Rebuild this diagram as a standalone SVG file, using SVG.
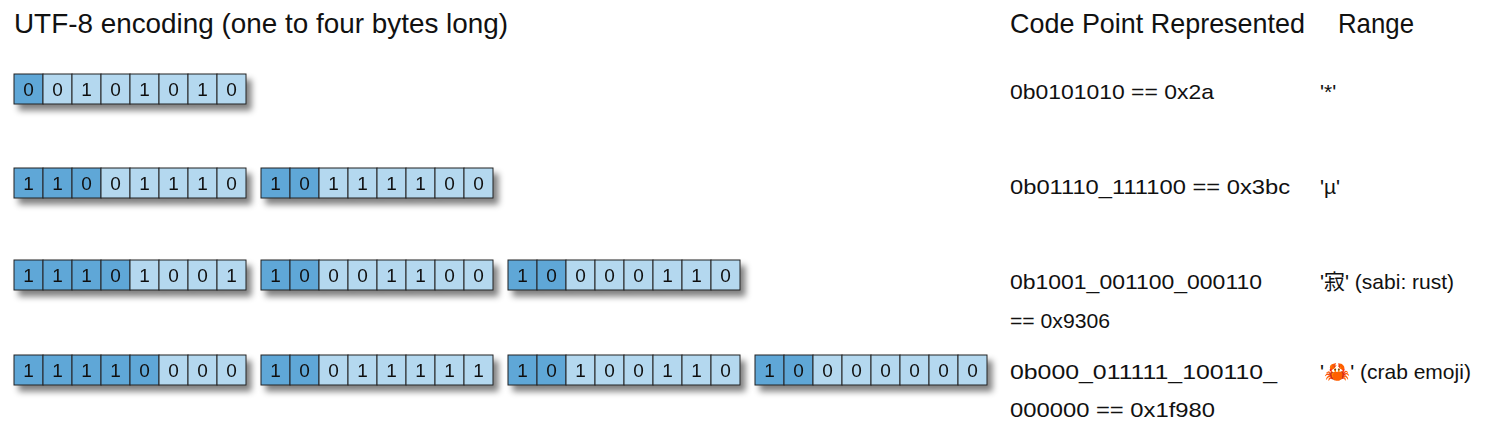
<svg xmlns="http://www.w3.org/2000/svg" xmlns:xlink="http://www.w3.org/1999/xlink" width="1503" height="434" viewBox="0 0 1503 434">
<style>
text{font-family:"Liberation Sans","DejaVu Sans",sans-serif;fill:#111}
.h{font-size:28px}
.t{font-size:21px}
.b{font-size:19px;text-anchor:middle}
.d{fill:#5fa7d7;stroke:#222;stroke-width:1}
.l{fill:#b4d8ef;stroke:#222;stroke-width:1}
</style>
<defs>
<filter id="sh" x="-10%" y="-30%" width="125%" height="190%">
<feGaussianBlur in="SourceAlpha" stdDeviation="3"/>
<feOffset dx="5" dy="6"/>
<feComponentTransfer><feFuncA type="linear" slope="0.5"/></feComponentTransfer>
<feMerge><feMergeNode/><feMergeNode in="SourceGraphic"/></feMerge>
</filter>
</defs>
<text class="h" x="14" y="33" textLength="494" lengthAdjust="spacingAndGlyphs">UTF-8 encoding (one to four bytes long)</text>
<text class="h" x="1010" y="33" textLength="295" lengthAdjust="spacingAndGlyphs">Code Point Represented</text>
<text class="h" x="1338" y="33" textLength="76" lengthAdjust="spacingAndGlyphs">Range</text>
<g id="bytes">
<!-- row1 -->
<g id="r1b1" filter="url(#sh)" transform="translate(14,74)">
<rect class="d" x="0" y="0" width="29" height="30"/><rect class="l" x="29" y="0" width="29" height="30"/><rect class="l" x="58" y="0" width="29" height="30"/><rect class="l" x="87" y="0" width="29" height="30"/><rect class="l" x="116" y="0" width="29" height="30"/><rect class="l" x="145" y="0" width="29" height="30"/><rect class="l" x="174" y="0" width="29" height="30"/><rect class="l" x="203" y="0" width="29" height="30"/>
<text class="b" x="14.5" y="22">0</text><text class="b" x="43.5" y="22">0</text><text class="b" x="72.5" y="22">1</text><text class="b" x="101.5" y="22">0</text><text class="b" x="130.5" y="22">1</text><text class="b" x="159.5" y="22">0</text><text class="b" x="188.5" y="22">1</text><text class="b" x="217.5" y="22">0</text>
</g>
<!-- row2 -->
<g id="r2b1" filter="url(#sh)" transform="translate(14,168)">
<rect class="d" x="0" y="0" width="29" height="30"/><rect class="d" x="29" y="0" width="29" height="30"/><rect class="d" x="58" y="0" width="29" height="30"/><rect class="l" x="87" y="0" width="29" height="30"/><rect class="l" x="116" y="0" width="29" height="30"/><rect class="l" x="145" y="0" width="29" height="30"/><rect class="l" x="174" y="0" width="29" height="30"/><rect class="l" x="203" y="0" width="29" height="30"/>
<text class="b" x="14.5" y="22">1</text><text class="b" x="43.5" y="22">1</text><text class="b" x="72.5" y="22">0</text><text class="b" x="101.5" y="22">0</text><text class="b" x="130.5" y="22">1</text><text class="b" x="159.5" y="22">1</text><text class="b" x="188.5" y="22">1</text><text class="b" x="217.5" y="22">0</text>
</g>
<g id="r2b2" filter="url(#sh)" transform="translate(261,168)">
<rect class="d" x="0" y="0" width="29" height="30"/><rect class="d" x="29" y="0" width="29" height="30"/><rect class="l" x="58" y="0" width="29" height="30"/><rect class="l" x="87" y="0" width="29" height="30"/><rect class="l" x="116" y="0" width="29" height="30"/><rect class="l" x="145" y="0" width="29" height="30"/><rect class="l" x="174" y="0" width="29" height="30"/><rect class="l" x="203" y="0" width="29" height="30"/>
<text class="b" x="14.5" y="22">1</text><text class="b" x="43.5" y="22">0</text><text class="b" x="72.5" y="22">1</text><text class="b" x="101.5" y="22">1</text><text class="b" x="130.5" y="22">1</text><text class="b" x="159.5" y="22">1</text><text class="b" x="188.5" y="22">0</text><text class="b" x="217.5" y="22">0</text>
</g>
<!-- row3 -->
<g id="r3b1" filter="url(#sh)" transform="translate(14,260)">
<rect class="d" x="0" y="0" width="29" height="30"/><rect class="d" x="29" y="0" width="29" height="30"/><rect class="d" x="58" y="0" width="29" height="30"/><rect class="d" x="87" y="0" width="29" height="30"/><rect class="l" x="116" y="0" width="29" height="30"/><rect class="l" x="145" y="0" width="29" height="30"/><rect class="l" x="174" y="0" width="29" height="30"/><rect class="l" x="203" y="0" width="29" height="30"/>
<text class="b" x="14.5" y="22">1</text><text class="b" x="43.5" y="22">1</text><text class="b" x="72.5" y="22">1</text><text class="b" x="101.5" y="22">0</text><text class="b" x="130.5" y="22">1</text><text class="b" x="159.5" y="22">0</text><text class="b" x="188.5" y="22">0</text><text class="b" x="217.5" y="22">1</text>
</g>
<g id="r3b2" filter="url(#sh)" transform="translate(261,260)">
<rect class="d" x="0" y="0" width="29" height="30"/><rect class="d" x="29" y="0" width="29" height="30"/><rect class="l" x="58" y="0" width="29" height="30"/><rect class="l" x="87" y="0" width="29" height="30"/><rect class="l" x="116" y="0" width="29" height="30"/><rect class="l" x="145" y="0" width="29" height="30"/><rect class="l" x="174" y="0" width="29" height="30"/><rect class="l" x="203" y="0" width="29" height="30"/>
<text class="b" x="14.5" y="22">1</text><text class="b" x="43.5" y="22">0</text><text class="b" x="72.5" y="22">0</text><text class="b" x="101.5" y="22">0</text><text class="b" x="130.5" y="22">1</text><text class="b" x="159.5" y="22">1</text><text class="b" x="188.5" y="22">0</text><text class="b" x="217.5" y="22">0</text>
</g>
<g id="r3b3" filter="url(#sh)" transform="translate(508,260)">
<rect class="d" x="0" y="0" width="29" height="30"/><rect class="d" x="29" y="0" width="29" height="30"/><rect class="l" x="58" y="0" width="29" height="30"/><rect class="l" x="87" y="0" width="29" height="30"/><rect class="l" x="116" y="0" width="29" height="30"/><rect class="l" x="145" y="0" width="29" height="30"/><rect class="l" x="174" y="0" width="29" height="30"/><rect class="l" x="203" y="0" width="29" height="30"/>
<text class="b" x="14.5" y="22">1</text><text class="b" x="43.5" y="22">0</text><text class="b" x="72.5" y="22">0</text><text class="b" x="101.5" y="22">0</text><text class="b" x="130.5" y="22">0</text><text class="b" x="159.5" y="22">1</text><text class="b" x="188.5" y="22">1</text><text class="b" x="217.5" y="22">0</text>
</g>
<!-- row4 -->
<g id="r4b1" filter="url(#sh)" transform="translate(14,355)">
<rect class="d" x="0" y="0" width="29" height="30"/><rect class="d" x="29" y="0" width="29" height="30"/><rect class="d" x="58" y="0" width="29" height="30"/><rect class="d" x="87" y="0" width="29" height="30"/><rect class="d" x="116" y="0" width="29" height="30"/><rect class="l" x="145" y="0" width="29" height="30"/><rect class="l" x="174" y="0" width="29" height="30"/><rect class="l" x="203" y="0" width="29" height="30"/>
<text class="b" x="14.5" y="22">1</text><text class="b" x="43.5" y="22">1</text><text class="b" x="72.5" y="22">1</text><text class="b" x="101.5" y="22">1</text><text class="b" x="130.5" y="22">0</text><text class="b" x="159.5" y="22">0</text><text class="b" x="188.5" y="22">0</text><text class="b" x="217.5" y="22">0</text>
</g>
<g id="r4b2" filter="url(#sh)" transform="translate(261,355)">
<rect class="d" x="0" y="0" width="29" height="30"/><rect class="d" x="29" y="0" width="29" height="30"/><rect class="l" x="58" y="0" width="29" height="30"/><rect class="l" x="87" y="0" width="29" height="30"/><rect class="l" x="116" y="0" width="29" height="30"/><rect class="l" x="145" y="0" width="29" height="30"/><rect class="l" x="174" y="0" width="29" height="30"/><rect class="l" x="203" y="0" width="29" height="30"/>
<text class="b" x="14.5" y="22">1</text><text class="b" x="43.5" y="22">0</text><text class="b" x="72.5" y="22">0</text><text class="b" x="101.5" y="22">1</text><text class="b" x="130.5" y="22">1</text><text class="b" x="159.5" y="22">1</text><text class="b" x="188.5" y="22">1</text><text class="b" x="217.5" y="22">1</text>
</g>
<g id="r4b3" filter="url(#sh)" transform="translate(508,355)">
<rect class="d" x="0" y="0" width="29" height="30"/><rect class="d" x="29" y="0" width="29" height="30"/><rect class="l" x="58" y="0" width="29" height="30"/><rect class="l" x="87" y="0" width="29" height="30"/><rect class="l" x="116" y="0" width="29" height="30"/><rect class="l" x="145" y="0" width="29" height="30"/><rect class="l" x="174" y="0" width="29" height="30"/><rect class="l" x="203" y="0" width="29" height="30"/>
<text class="b" x="14.5" y="22">1</text><text class="b" x="43.5" y="22">0</text><text class="b" x="72.5" y="22">1</text><text class="b" x="101.5" y="22">0</text><text class="b" x="130.5" y="22">0</text><text class="b" x="159.5" y="22">1</text><text class="b" x="188.5" y="22">1</text><text class="b" x="217.5" y="22">0</text>
</g>
<g id="r4b4" filter="url(#sh)" transform="translate(755,355)">
<rect class="d" x="0" y="0" width="29" height="30"/><rect class="d" x="29" y="0" width="29" height="30"/><rect class="l" x="58" y="0" width="29" height="30"/><rect class="l" x="87" y="0" width="29" height="30"/><rect class="l" x="116" y="0" width="29" height="30"/><rect class="l" x="145" y="0" width="29" height="30"/><rect class="l" x="174" y="0" width="29" height="30"/><rect class="l" x="203" y="0" width="29" height="30"/>
<text class="b" x="14.5" y="22">1</text><text class="b" x="43.5" y="22">0</text><text class="b" x="72.5" y="22">0</text><text class="b" x="101.5" y="22">0</text><text class="b" x="130.5" y="22">0</text><text class="b" x="159.5" y="22">0</text><text class="b" x="188.5" y="22">0</text><text class="b" x="217.5" y="22">0</text>
</g>
</g>
<g id="codepoints">
<text class="t" x="1010" y="99" textLength="204" lengthAdjust="spacingAndGlyphs">0b0101010 == 0x2a</text>
<text class="t" x="1010" y="194" textLength="280" lengthAdjust="spacingAndGlyphs">0b01110_111100 == 0x3bc</text>
<text class="t" x="1010" y="289" textLength="252" lengthAdjust="spacingAndGlyphs">0b1001_001100_000110</text>
<text class="t" x="1010" y="328" textLength="100" lengthAdjust="spacingAndGlyphs">== 0x9306</text>
<text class="t" x="1010" y="379" textLength="267" lengthAdjust="spacingAndGlyphs">0b000_011111_100110_</text>
<text class="t" x="1010" y="417" textLength="205" lengthAdjust="spacingAndGlyphs">000000 == 0x1f980</text>
</g>
<g id="ranges">
<text class="t" x="1320" y="99">'*'</text>
<text class="t" x="1320" y="194">'µ'</text>
<text class="t" x="1320" y="289">'<tspan style="font-family:'Noto Sans CJK JP',sans-serif">寂</tspan>' (sabi: rust)</text>
<text class="t" x="1320" y="379">'<tspan style="font-family:'Noto Color Emoji','Noto Sans',sans-serif">🦀</tspan>' (crab emoji)</text>
</g>
</svg>
